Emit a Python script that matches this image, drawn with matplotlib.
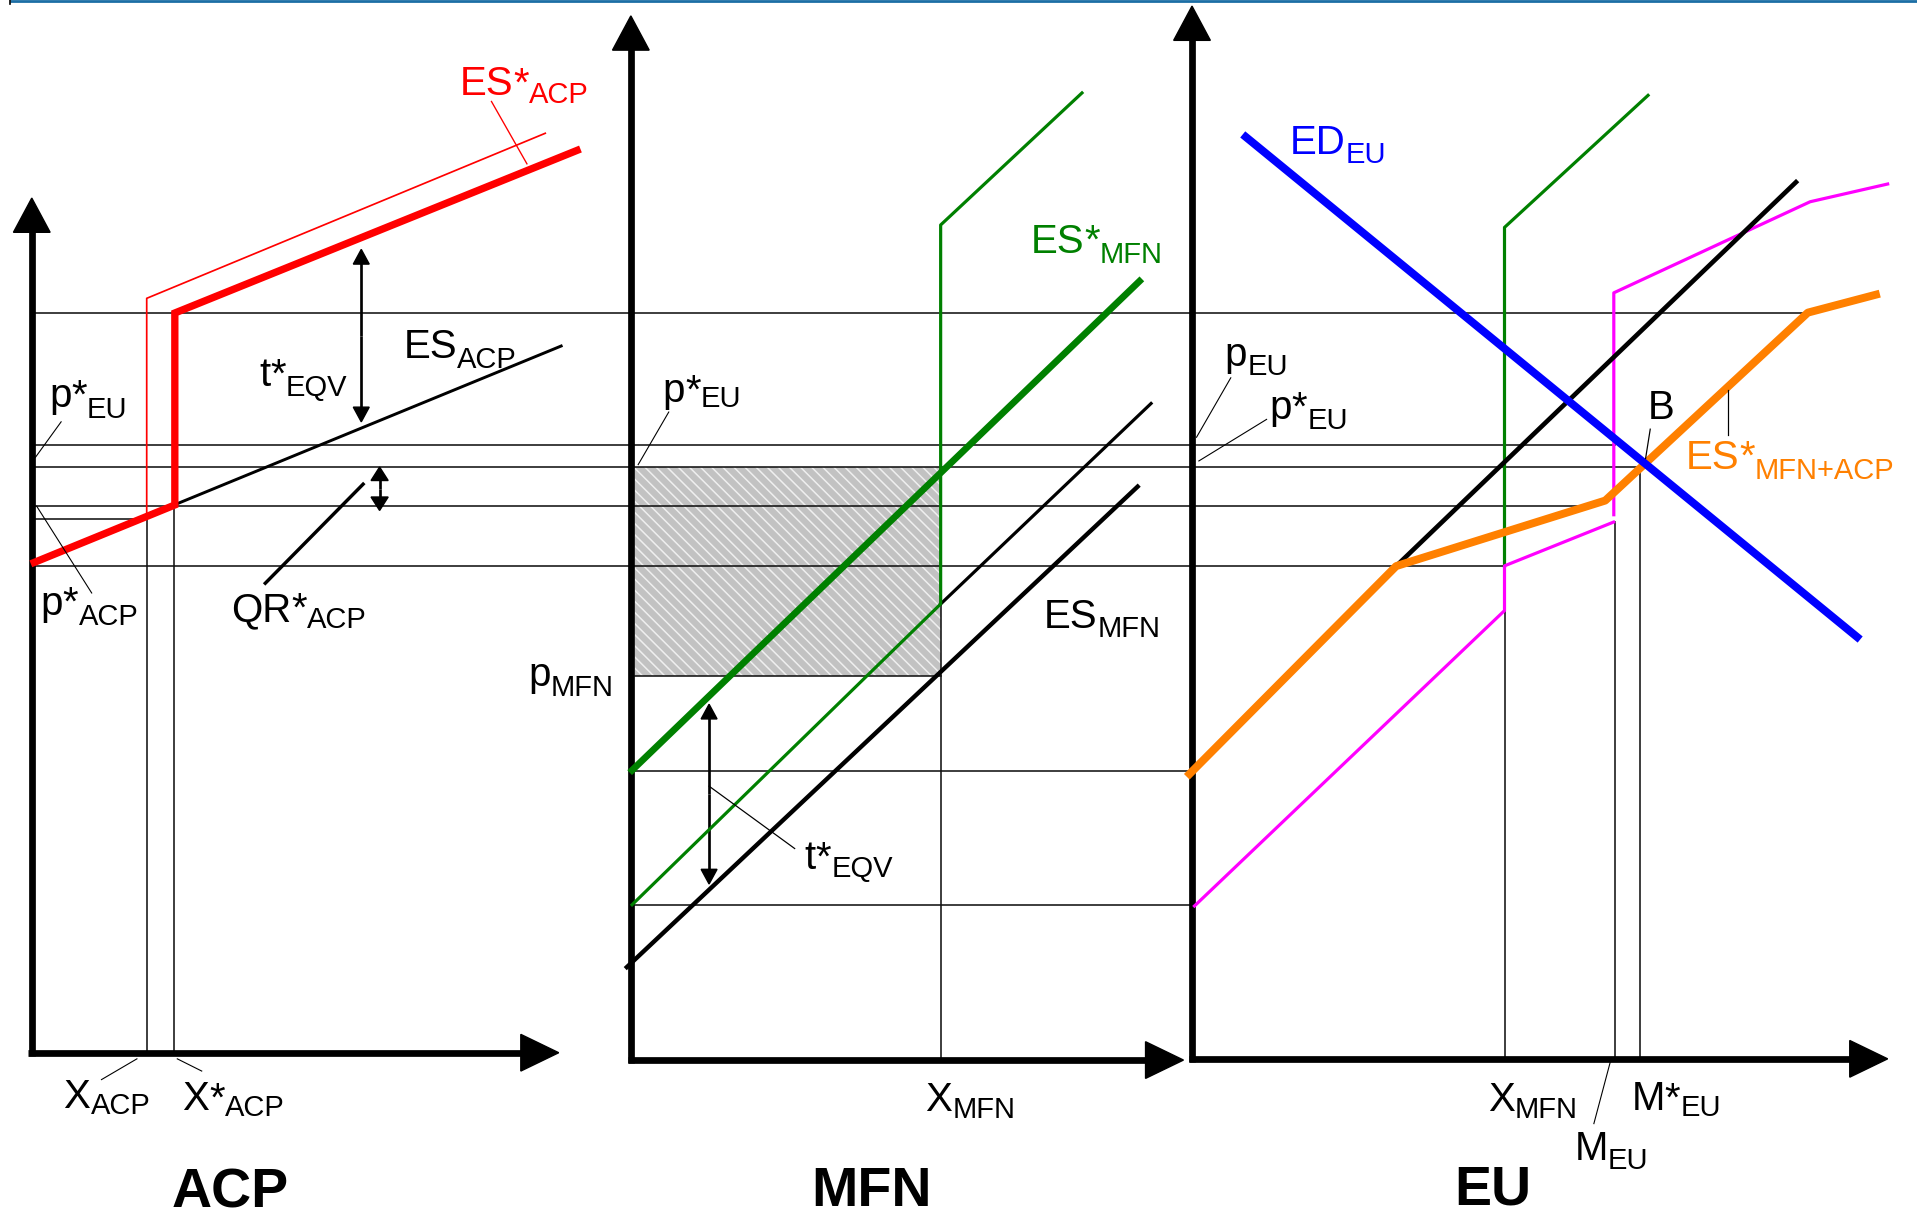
import numpy as np
import matplotlib
matplotlib.use("Agg")
import matplotlib.pyplot as plt
from matplotlib.patches import Polygon, Rectangle

# ---------------- diagram data (display units 1568 x 997, y downwards) ----------------
# common horizontal guide lines: level, x-start, x-end
guide_y = [256.0, 364.0, 382.0, 413.6, 424.6, 462.8, 552.7, 630.4, 740.0]
guide_x0 = [28, 28, 28, 28, 28, 28, 519, 519, 519]
guide_x1 = [1477, 1321, 1342, 1300, 120, 1231, 770, 975, 977]
# vertical guide lines: x, y-top, y-bottom
vguide_x = [120, 142, 770, 1231, 1321, 1341.5]
vguide_top = [423, 413, 494, 499, 427, 382]
vguide_bot = [861, 861, 867, 866, 866, 866]

# ACP panel curves
es_acp_x = [28, 459]
es_acp_y = [460, 283]
es_star_acp_thick_x = [28, 143, 143, 472]
es_star_acp_thick_y = [460, 413, 256, 123]
es_star_acp_thin_x = [120, 120, 446]
es_star_acp_thin_y = [423, 244, 109]

# MFN panel curves
es_star_mfn_thin_x = [517, 769.4, 769.4, 885]
es_star_mfn_thin_y = [740, 494, 184, 76]
es_star_mfn_thick_x = [517, 932]
es_star_mfn_thick_y = [630, 230]
mfn_upper_black_x = [769.4, 941.5]
mfn_upper_black_y = [494, 330]
es_mfn_x = [512.7, 930.5]
es_mfn_y = [791, 398]
shade_x = [519, 770]
shade_y = [382, 552.7]

# EU panel curves
ed_eu_x = [1019, 1519]
ed_eu_y = [112, 521]
eu_green_x = [1230.6, 1230.6, 1348]
eu_green_y = [463, 186, 78]
eu_black_x = [1142, 1469]
eu_black_y = [463, 149]
eu_magenta_low_x = [977, 1230.6, 1230.6, 1319.8]
eu_magenta_low_y = [741, 499.4, 462.8, 427]
eu_magenta_up_x = [1320, 1320, 1480.6, 1544]
eu_magenta_up_y = [421, 239.5, 165, 150.5]
es_star_sum_x = [973, 1142, 1313, 1478.7, 1534.4]
es_star_sum_y = [633, 463, 409.4, 255.7, 241]

# axes: (origin x, origin y, y-tip, x-tip)
axes_ox = [26, 516, 975]
axes_oy = [861, 867, 866]
axes_ytip = [162, 13, 5]
axes_xtip = [457, 968, 1544]
panel_titles = ["ACP", "MFN", "EU"]

# ---------------- figure ----------------
W, H = 1568, 997
fig = plt.figure(figsize=(19.17, 12.19), dpi=100)
ax = fig.add_axes([0, 0, 1, 1])
ax.set_xlim(0, W)
ax.set_ylim(H, 0)
ax.axis("off")

PT = 1917 / 1568 * 72 / 100  # points per display unit


def lw(d):
    return d * PT


RED, GREEN, BLUE, ORANGE, MAG = "#ff0000", "#008000", "#0000ff", "#ff8000", "#ff00ff"
FONT = "Liberation Sans"

# top border
ax.plot([8.5, W], [1.0, 1.0], color="#1b6ea5", lw=2.0, solid_capstyle="butt")
ax.plot([8.5, 8.5], [0, 3.5], color="black", lw=1.2)

# shaded rectangle
plt.rcParams["hatch.color"] = "#efefef"
plt.rcParams["hatch.linewidth"] = 1.1
ax.add_patch(Rectangle((shade_x[0], shade_y[0]), shade_x[1] - shade_x[0], shade_y[1] - shade_y[0],
                       facecolor="#c2c2c2", edgecolor="#efefef", hatch="\\\\\\", lw=0, zorder=1))

# guides
for y, a, b in zip(guide_y, guide_x0, guide_x1):
    ax.plot([a, b], [y, y], color="#111111", lw=lw(1.3), zorder=2)
for x, t, b in zip(vguide_x, vguide_top, vguide_bot):
    ax.plot([x, x], [t, b], color="#111111", lw=lw(1.3), zorder=2)


def arrow_line(x0, y0, x1, y1, hl, hw, width, z=4):
    d = np.array([x1 - x0, y1 - y0], float)
    u = d / np.hypot(*d)
    n = np.array([-u[1], u[0]])
    tip = np.array([x1, y1], float)
    base = tip - u * hl
    ax.plot([x0, base[0] + u[0] * 1], [y0, base[1] + u[1] * 1], color="k", lw=lw(width),
            solid_capstyle="butt", zorder=z)
    ax.add_patch(Polygon([tip, base + n * hw, base - n * hw], closed=True, color="k", zorder=z))


def double_arrow(x, y0, y1, hl, hw, width):
    mid = (y0 + y1) / 2
    arrow_line(x, mid, x, y0, hl, hw, width)
    arrow_line(x, mid, x, y1, hl, hw, width)


# axes
for ox, oy, yt, xt in zip(axes_ox, axes_oy, axes_ytip, axes_xtip):
    arrow_line(ox, oy + 2.7, ox, yt, 28, 15, 5.5, z=3)
    arrow_line(ox - 2.7, oy, xt, oy, 31, 15, 5.5, z=3)

# ACP curves
ax.plot(es_acp_x, es_acp_y, color="k", lw=lw(2.4), zorder=5)
ax.plot(es_star_acp_thin_x, es_star_acp_thin_y, color=RED, lw=lw(1.4), zorder=5)
ax.plot(es_star_acp_thick_x, es_star_acp_thick_y, color=RED, lw=lw(6), zorder=6,
        solid_joinstyle="miter")

# MFN curves
ax.plot(es_mfn_x, es_mfn_y, color="k", lw=lw(3.6), zorder=5)
ax.plot(mfn_upper_black_x, mfn_upper_black_y, color="k", lw=lw(2.6), zorder=5)
ax.plot(es_star_mfn_thin_x, es_star_mfn_thin_y, color=GREEN, lw=lw(2.6), zorder=5)
ax.plot(es_star_mfn_thick_x, es_star_mfn_thick_y, color=GREEN, lw=lw(5.5), zorder=6)

# EU curves
ax.plot(eu_green_x, eu_green_y, color=GREEN, lw=lw(2.6), zorder=5)
ax.plot(eu_magenta_low_x, eu_magenta_low_y, color=MAG, lw=lw(2.6), zorder=5)
ax.plot(eu_magenta_up_x, eu_magenta_up_y, color=MAG, lw=lw(2.6), zorder=5)
ax.plot(eu_black_x, eu_black_y, color="k", lw=lw(3.8), zorder=6)
ax.plot(es_star_sum_x, es_star_sum_y, color=ORANGE, lw=lw(6.5), zorder=7)
ax.plot(ed_eu_x, ed_eu_y, color=BLUE, lw=lw(6.5), zorder=8)

# arrows
double_arrow(295.5, 204, 345, 12, 6.5, 2.2)
double_arrow(310.5, 382, 417.5, 11, 7, 2.2)
double_arrow(580, 576, 723, 12, 6.5, 2.2)

# leader lines
leaders = [
    ((402, 83), (431, 134), RED, 1.1),
    ((297, 396), (217, 477), "k", 2.8),
    ((50, 345), (29, 374), "k", 0.9),
    ((30, 414), (75, 485), "k", 0.9),
    ((112, 866), (83, 883), "k", 0.9),
    ((145, 866), (165, 876), "k", 0.9),
    ((580, 643), (650, 694), "k", 1.0),
    ((547, 337), (522, 380), "k", 0.9),
    ((1006.7, 309), (978.7, 357.6), "k", 0.9),
    ((1036, 343), (980.6, 377), "k", 0.9),
    ((1349.8, 351), (1346, 375), "k", 1.0),
    ((1413.3, 319), (1413.3, 356), "k", 1.0),
    ((1317, 869), (1303.7, 919), "k", 0.9),
]
for (a, b), (c, d), col, w in leaders:
    ax.plot([a, c], [b, d], color=col, lw=lw(w), zorder=9)

# ---------------- labels ----------------
fig.canvas.draw()
renderer = fig.canvas.get_renderer()
DPX = W / 1917.0
MAIN, SUB = 29, 21


def label(x, y, main, star, sub, color="k", subdy=7):
    cx = x
    parts = [(main, MAIN, 0)]
    if star:
        parts.append(("*", MAIN, 0))
    if sub:
        parts.append((sub, SUB, subdy))
    for s, fs, dy in parts:
        t = ax.text(cx, y + dy, s, fontsize=fs, color=color, family=FONT,
                    ha="left", va="baseline", zorder=10)
        bb = t.get_window_extent(renderer)
        cx += bb.width * DPX


label(376, 78, "ES", True, "ACP", RED, 6)
label(330, 293, "ES", False, "ACP", "k", 8)
label(212, 316, "t", True, "EQV", "k", 8)
label(40, 333, "p", True, "EU", "k", 9)
label(33, 503, "p", True, "ACP", "k", 8)
label(189, 508, "QR", True, "ACP", "k", 6)
label(52, 906, "X", False, "ACP", "k", 5)
label(149, 908, "X", True, "ACP", "k", 5)

label(843, 207, "ES", True, "MFN", GREEN, 8)
label(542, 329, "p", True, "EU", "k", 4)
label(432, 561, "p", False, "MFN", "k", 8)
label(854, 514, "ES", False, "MFN", "k", 7)
label(658, 711, "t", True, "EQV", "k", 6)
label(757, 909, "X", False, "MFN", "k", 5)

label(1055, 126, "ED", False, "EU", BLUE, 7)
label(1001.7, 299, "p", False, "EU", "k", 8)
label(1038, 343, "p", True, "EU", "k", 8)
label(1348, 343, "B", False, "", "k")
label(1378.7, 383.5, "ES", True, "MFN+ACP", ORANGE, 8)
label(1217, 909, "X", False, "MFN", "k", 5)
label(1334.4, 908, "M", True, "EU", "k", 5)
label(1288, 949, "M", False, "EU", "k", 7)

title_x = [188, 713, 1221]
title_y = [988, 986, 985]
for tx, ty, s in zip(title_x, title_y, panel_titles):
    ax.text(tx, ty, s, fontsize=40, fontweight="bold", family=FONT, ha="center",
            va="baseline", color="k", zorder=10)

fig.savefig("out.png", dpi=100, facecolor="white")
